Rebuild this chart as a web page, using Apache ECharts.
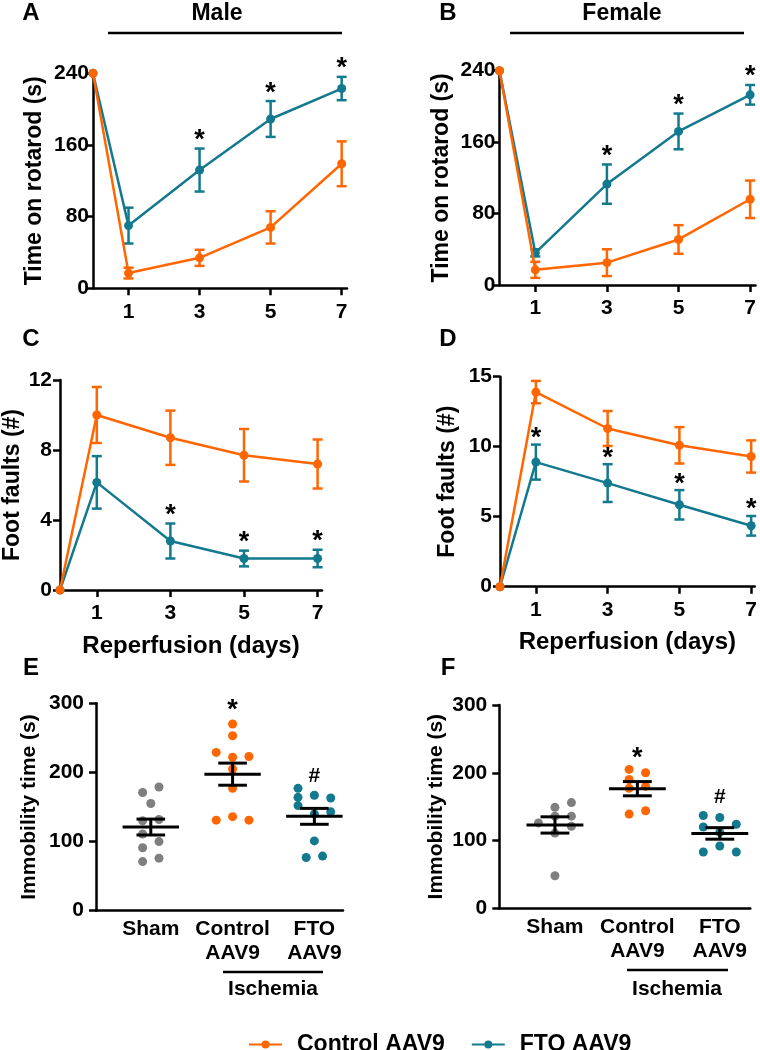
<!DOCTYPE html>
<html><head><meta charset="utf-8">
<script src="https://cdn.jsdelivr.net/npm/echarts@6/dist/echarts.min.js"></script>
<style>html,body{margin:0;padding:0;background:#fff}#c{width:760px;height:1050px}</style>
</head><body><div id="c"></div>
<script>
// ---------- data ----------
const days = [0, 1, 3, 5, 7];
const dayTicks = [1, 3, 5, 7];
const seriesNames = ['Control AAV9', 'FTO AAV9'];

// A: rotarod, male
const maleRotCtrlMean = [240, 17, 34, 68, 139];
const maleRotCtrlSem  = [0, 6, 9, 18, 25];
const maleRotFtoMean  = [240, 70, 132, 189, 223];
const maleRotFtoSem   = [0, 20, 24, 20, 13];
const maleRotSig      = [3, 5, 7];
// B: rotarod, female
const femRotCtrlMean = [240, 17, 25, 51, 96];
const femRotCtrlSem  = [0, 9, 15, 16, 21];
const femRotFtoMean  = [240, 36, 113, 172, 213];
const femRotFtoSem   = [0, 4, 22, 20, 11];
const femRotSig      = [3, 5, 7];
// C: foot faults, male
const maleFfCtrlMean = [0, 10, 8.7, 7.7, 7.2];
const maleFfCtrlSem  = [0, 1.6, 1.55, 1.5, 1.4];
const maleFfFtoMean  = [0, 6.15, 2.8, 1.8, 1.8];
const maleFfFtoSem   = [0, 1.5, 1.0, 0.45, 0.5];
const maleFfSig      = [3, 5, 7];
// D: foot faults, female
const femFfCtrlMean = [0, 13.9, 11.3, 10.1, 9.3];
const femFfCtrlSem  = [0, 0.8, 1.25, 1.3, 1.15];
const femFfFtoMean  = [0, 8.9, 7.4, 5.85, 4.35];
const femFfFtoSem   = [0, 1.25, 1.35, 1.05, 0.7];
const femFfSig      = [1, 3, 5, 7];

// E / F: immobility time
const groupLabels = ['Sham', 'Control\nAAV9', 'FTO\nAAV9'];
const maleShamVals = [171, 179, 155, 130, 132, 111, 100, 91, 71, 76];
const maleShamJit  = [-0.1, 0.1, 0, -0.1, 0.1, -0.1, 0.1, -0.1, -0.1, 0.1];
const maleCtrlVals = [270, 253, 229, 222, 223, 205, 177, 131, 136, 131];
const maleCtrlJit  = [0, 0, -0.2, 0, 0.2, 0, 0, -0.2, 0, 0.2];
const maleFtoVals  = [177, 167, 163, 164, 152, 140, 143, 101, 77, 79];
const maleFtoJit   = [-0.2, 0, 0.2, -0.2, -0.2, 0, 0.2, 0, -0.1, 0.1];
const maleImmMean  = [121, 197.5, 136.5];
const maleImmSem   = [11.5, 16, 11.5];

const femShamVals = [149, 156, 136, 136, 126, 121, 111, 48];
const femShamJit  = [0, 0.2, 0, 0.2, -0.2, 0.2, 0, 0];
const femCtrlVals = [205, 200, 190, 180, 177, 139, 144];
const femCtrlJit  = [-0.1, 0.1, -0.1, 0.1, -0.1, -0.1, 0.1];
const femFtoVals  = [137, 134, 120, 124, 112, 83, 92, 83];
const femFtoJit   = [-0.2, 0, -0.2, 0.2, 0, -0.2, 0, 0.2];
const femImmMean  = [123, 176.5, 110.5];
const femImmSem   = [12, 10.5, 8.5];

// ---------- style ----------
const ORANGE = '#FF6600', TEAL = '#13798E', GRAY = '#7F7F7F';
const FONT = '"Liberation Sans", Arial, Helvetica, sans-serif';
const LW = 2.5;

const chart = echarts.init(document.getElementById('c'), null, {renderer: 'canvas'});

const grids = [
  {left: 93,    top: 73.3,  width: 254, height: 215},   // A
  {left: 499.5, top: 70.7,  width: 256, height: 214.3}, // B
  {left: 60,    top: 380,   width: 262, height: 210},   // C
  {left: 500,   top: 376.7, width: 258, height: 210},   // D
  {left: 96,    top: 703.3, width: 247, height: 207.4}, // E
  {left: 499.3, top: 705,   width: 251, height: 203.3}  // F
];

const axLine = {lineStyle: {color: '#000', width: LW}};
const axTick = {length: 7, lineStyle: {color: '#000', width: LW}};
const lbl = (extra) => Object.assign({color: '#000', fontWeight: 'bold', fontSize: 21, fontFamily: FONT}, extra || {});

function dayXAxis(gi, max, withName) {
  const ax = {
    type: 'value', gridIndex: gi, min: 0, max: max,
    axisLine: axLine, splitLine: {show: false},
    axisTick: Object.assign({customValues: dayTicks}, axTick),
    axisLabel: lbl({customValues: dayTicks, margin: 13})
  };
  if (withName) {
    ax.name = 'Reperfusion (days)';
    ax.nameLocation = 'middle';
    ax.nameGap = 44;
    ax.nameTextStyle = {color: '#000', fontWeight: 'bold', fontSize: 24, fontFamily: FONT};
  }
  return ax;
}
function valYAxis(gi, max, interval, name, gap, nameSize, margin) {
  return {
    type: 'value', gridIndex: gi, min: 0, max: max, interval: interval,
    axisLine: {show: true, lineStyle: {color: '#000', width: LW}}, splitLine: {show: false},
    axisTick: Object.assign({show: true}, axTick),
    axisLabel: lbl({margin: margin}),
    name: name, nameLocation: 'middle', nameGap: gap,
    nameTextStyle: {color: '#000', fontWeight: 'bold', fontSize: nameSize, fontFamily: FONT}
  };
}
function groupXAxis(gi, min, max) {
  return {
    type: 'value', gridIndex: gi, min: min, max: max,
    axisLine: axLine, splitLine: {show: false},
    axisTick: {show: false},
    axisLabel: lbl({customValues: [1, 2, 3], margin: 7, lineHeight: 24, fontSize: 21,
      formatter: (v) => groupLabels[Math.round(v) - 1]})
  };
}

const xAxes = [
  dayXAxis(0, 7.15, false),
  dayXAxis(1, 7.15, false),
  dayXAxis(2, 7.12, true),
  dayXAxis(3, 7.1, true),
  groupXAxis(4, 0.33, 3.35),
  groupXAxis(5, 0.325, 3.37)
];
const yAxes = [
  valYAxis(0, 240, 80, 'Time on rotarod (s)', 47, 23, 4),
  valYAxis(1, 240, 80, 'Time on rotarod (s)', 46, 23, 4),
  valYAxis(2, 12, 4, 'Foot faults (#)', 36, 23, 8),
  valYAxis(3, 15, 5, 'Foot faults (#)', 41, 23, 8),
  valYAxis(4, 300, 100, 'Immobility time (s)', 56, 21, 12),
  valYAxis(5, 300, 100, 'Immobility time (s)', 53, 21, 12)
];

function errBarRender(color, capHalf) {
  return function (params, api) {
    const x = api.value(0), m = api.value(1), s = api.value(2);
    if (!s) return null;
    const t = api.coord([x, m + s]), b = api.coord([x, m - s]);
    const st = {stroke: color, lineWidth: LW};
    return {type: 'group', children: [
      {type: 'line', shape: {x1: t[0], y1: t[1], x2: b[0], y2: b[1]}, style: st},
      {type: 'line', shape: {x1: t[0] - capHalf, y1: t[1], x2: t[0] + capHalf, y2: t[1]}, style: st},
      {type: 'line', shape: {x1: b[0] - capHalf, y1: b[1], x2: b[0] + capHalf, y2: b[1]}, style: st}
    ]};
  };
}
function markTextRender(ch, dy, size) {
  return function (params, api) {
    const p = api.coord([api.value(0), api.value(1)]);
    return {type: 'text', x: p[0], y: p[1] + dy,
      style: {text: ch, fill: '#000', fontSize: size, fontWeight: 'bold', fontFamily: FONT,
        align: 'center', verticalAlign: 'middle', textAlign: 'center', textVerticalAlign: 'middle'}};
  };
}
function meanSemRender(params, api) {
  const x = api.value(0), m = api.value(1), s = api.value(2);
  const c = api.coord([x, m]), t = api.coord([x, m + s]), b = api.coord([x, m - s]);
  const half = api.size([0.345, 0])[0], cap = api.size([0.175, 0])[0];
  const st = {stroke: '#000', lineWidth: 3};
  return {type: 'group', children: [
    {type: 'line', shape: {x1: c[0] - half, y1: c[1], x2: c[0] + half, y2: c[1]}, style: st},
    {type: 'line', shape: {x1: t[0], y1: t[1], x2: b[0], y2: b[1]}, style: st},
    {type: 'line', shape: {x1: t[0] - cap, y1: t[1], x2: t[0] + cap, y2: t[1]}, style: st},
    {type: 'line', shape: {x1: b[0] - cap, y1: b[1], x2: b[0] + cap, y2: b[1]}, style: st}
  ]};
}

const series = [];
function linePanel(gi, ctrlMean, ctrlSem, ftoMean, ftoSem, sig, starDy) {
  const groups = [
    {name: seriesNames[1], mean: ftoMean, sem: ftoSem, color: TEAL, z: 3},
    {name: seriesNames[0], mean: ctrlMean, sem: ctrlSem, color: ORANGE, z: 4}
  ];
  groups.forEach(g => {
    series.push({
      type: 'line', name: g.name, xAxisIndex: gi, yAxisIndex: gi, z: g.z,
      data: days.map((d, i) => [d, g.mean[i]]),
      symbol: 'circle', symbolSize: 9, color: g.color,
      lineStyle: {color: g.color, width: LW}, itemStyle: {color: g.color},
      emphasis: {disabled: true}, clip: false, animation: false
    });
    series.push({
      type: 'custom', name: g.name + ' err', xAxisIndex: gi, yAxisIndex: gi, z: g.z,
      renderItem: errBarRender(g.color, 5),
      data: days.map((d, i) => [d, g.mean[i], g.sem[i]]), animation: false
    });
  });
  series.push({
    type: 'custom', name: 'sig' + gi, xAxisIndex: gi, yAxisIndex: gi, z: 6,
    renderItem: markTextRender('*', starDy, 27),
    data: sig.map(d => { const i = days.indexOf(d); return [d, ftoMean[i] + ftoSem[i]]; }),
    animation: false
  });
}
linePanel(0, maleRotCtrlMean, maleRotCtrlSem, maleRotFtoMean, maleRotFtoSem, maleRotSig, -8);
linePanel(1, femRotCtrlMean, femRotCtrlSem, femRotFtoMean, femRotFtoSem, femRotSig, -8);
linePanel(2, maleFfCtrlMean, maleFfCtrlSem, maleFfFtoMean, maleFfFtoSem, maleFfSig, -8);
linePanel(3, femFfCtrlMean, femFfCtrlSem, femFfFtoMean, femFfFtoSem, femFfSig, -6);

function dotPanel(gi, sets, mean, sem, starDy, hashDy) {
  const cols = [GRAY, ORANGE, TEAL];
  sets.forEach((s, k) => {
    series.push({
      type: 'scatter', name: 'grp' + gi + '_' + k, xAxisIndex: gi, yAxisIndex: gi, z: 2,
      symbol: 'circle', symbolSize: 9, itemStyle: {color: cols[k], opacity: 1},
      data: s.vals.map((v, i) => [k + 1 + s.jit[i], v]), emphasis: {disabled: true}, animation: false
    });
  });
  series.push({
    type: 'custom', name: 'ms' + gi, xAxisIndex: gi, yAxisIndex: gi, z: 5,
    renderItem: meanSemRender,
    data: mean.map((m, k) => [k + 1, m, sem[k]]), animation: false
  });
  series.push({
    type: 'custom', name: 'star' + gi, xAxisIndex: gi, yAxisIndex: gi, z: 6,
    renderItem: markTextRender('*', starDy, 27),
    data: [[2, Math.max.apply(null, sets[1].vals)]], animation: false
  });
  series.push({
    type: 'custom', name: 'hash' + gi, xAxisIndex: gi, yAxisIndex: gi, z: 6,
    renderItem: markTextRender('#', hashDy, 21),
    data: [[3, Math.max.apply(null, sets[2].vals)]], animation: false
  });
}
dotPanel(4, [{vals: maleShamVals, jit: maleShamJit}, {vals: maleCtrlVals, jit: maleCtrlJit}, {vals: maleFtoVals, jit: maleFtoJit}], maleImmMean, maleImmSem, -13, -12);
dotPanel(5, [{vals: femShamVals, jit: femShamJit}, {vals: femCtrlVals, jit: femCtrlJit}, {vals: femFtoVals, jit: femFtoJit}], femImmMean, femImmSem, -11, -18);

function txt(x, y, s, size) {
  return {type: 'text', x: x, y: y, style: {text: s, fill: '#000', fontSize: size, fontWeight: 'bold',
    fontFamily: FONT, align: 'center', verticalAlign: 'middle', textAlign: 'center', textVerticalAlign: 'middle'}};
}
function hline(x1, x2, y) {
  return {type: 'line', shape: {x1: x1, y1: y, x2: x2, y2: y}, style: {stroke: '#000', lineWidth: LW}};
}

const graphic = [
  txt(31, 13, 'A', 24), txt(448, 13, 'B', 24),
  txt(31, 339, 'C', 24), txt(448, 339, 'D', 24),
  txt(31, 668, 'E', 24), txt(448, 668, 'F', 24),
  txt(217, 14, 'Male', 23), hline(108, 342, 33),
  txt(622, 14, 'Female', 23), hline(510, 744, 33),
  hline(223, 323, 972), txt(273, 989, 'Ischemia', 21),
  hline(627, 728, 970), txt(677, 989, 'Ischemia', 21)
];

chart.setOption({
  animation: false,
  backgroundColor: '#fff',
  grid: grids,
  xAxis: xAxes,
  yAxis: yAxes,
  series: series,
  graphic: graphic,
  legend: {
    data: seriesNames, left: 243, top: 1028,
    itemWidth: 33, itemHeight: 10, itemGap: 26,
    textStyle: {color: '#000', fontWeight: 'bold', fontSize: 23, fontFamily: FONT, padding: [0, 0, 0, 10]},
    selectedMode: false
  }
});
</script></body></html>
